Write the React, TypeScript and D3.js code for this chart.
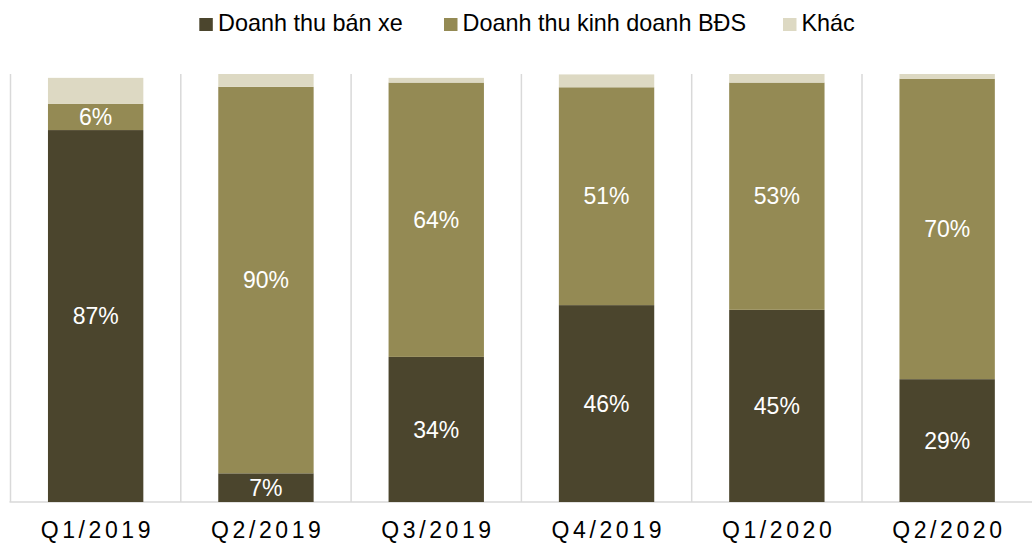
import React from "react";
import * as d3 from "d3";

const categories = ["Q1/2019", "Q2/2019", "Q3/2019", "Q4/2019", "Q1/2020", "Q2/2020"];
const seriesNames = ["Doanh thu bán xe", "Doanh thu kinh doanh BĐS", "Khác"];
const banXe = [86.9, 6.7, 33.9, 46.0, 44.9, 28.7];
const bds = [6.1, 90.3, 64.1, 50.9, 53.1, 70.2];
const khac = [6.1, 3.0, 1.1, 3.0, 2.0, 1.1];
const labelsBanXe = ["87%", "7%", "34%", "46%", "45%", "29%"];
const labelsBds = ["6%", "90%", "64%", "51%", "53%", "70%"];
const colors = ["#4B452D", "#948A54", "#DDD9C3"];

const W = 1032;
const H = 543;
const plotLeft = 10.5;
const plotRight = 1032.3;
const plotTop = 74;
const plotBottom = 502;

export default function App() {
  const rows = categories.map((c, i) => ({ cat: c, s0: banXe[i], s1: bds[i], s2: khac[i] }));
  const stack = d3.stack<any>().keys(["s0", "s1", "s2"])(rows);
  const x = d3.scaleBand().domain(categories).range([plotLeft, plotRight]).paddingInner(0.44).paddingOuter(0.22);
  const y = d3.scaleLinear().domain([0, 100]).range([plotBottom, plotTop]);
  const step = x.step();
  const gridXs = categories.map((c) => (x(c) as number) + x.bandwidth() / 2 - step / 2);
  const labelSets = [labelsBanXe, labelsBds, null];
  const font = "Arial, 'Liberation Sans', sans-serif";
  const ls = 3.6;

  const legendItems = [
    { name: seriesNames[0], color: colors[0], sx: 199.3, tx: 218 },
    { name: seriesNames[1], color: colors[1], sx: 444, tx: 462.5 },
    { name: seriesNames[2], color: colors[2], sx: 783, tx: 801.5 },
  ];

  return (
    <svg width={W} height={H} style={{ position: "absolute", left: 0, top: 0, background: "#fff" }} fontFamily={font}>
      {gridXs.map((gx, i) => (
        <line key={i} x1={gx} x2={gx} y1={plotTop} y2={plotBottom} stroke="#d9d9d9" strokeWidth={1.5} />
      ))}
      <line x1={plotLeft - 1} x2={W} y1={plotBottom} y2={plotBottom} stroke="#d9d9d9" strokeWidth={1.5} />
      {stack.map((layer, si) => (
        <g key={si}>
          {layer.map((d, i) => (
            <rect
              key={i}
              x={x(categories[i])}
              width={x.bandwidth()}
              y={y(d[1])}
              height={y(d[0]) - y(d[1])}
              fill={colors[si]}
            />
          ))}
          {labelSets[si] &&
            layer.map((d, i) => (
              <text
                key={"t" + i}
                x={(x(categories[i]) as number) + x.bandwidth() / 2}
                y={(y(d[0]) + y(d[1])) / 2}
                dy="0.36em"
                textAnchor="middle"
                fill="#fff"
                fontSize={23}
              >
                {(labelSets[si] as string[])[i]}
              </text>
            ))}
        </g>
      ))}
      {categories.map((c) => (
        <text
          key={c}
          x={(x(c) as number) + x.bandwidth() / 2 + ls / 2}
          y={538}
          textAnchor="middle"
          fontSize={23}
          letterSpacing={ls}
          fill="#000"
        >
          {c}
        </text>
      ))}
      {legendItems.map((l) => (
        <g key={l.name}>
          <rect x={l.sx} y={18} width={13.5} height={13} fill={l.color} />
          <text x={l.tx} y={31} fontSize={23.4} fill="#000">
            {l.name}
          </text>
        </g>
      ))}
    </svg>
  );
}
